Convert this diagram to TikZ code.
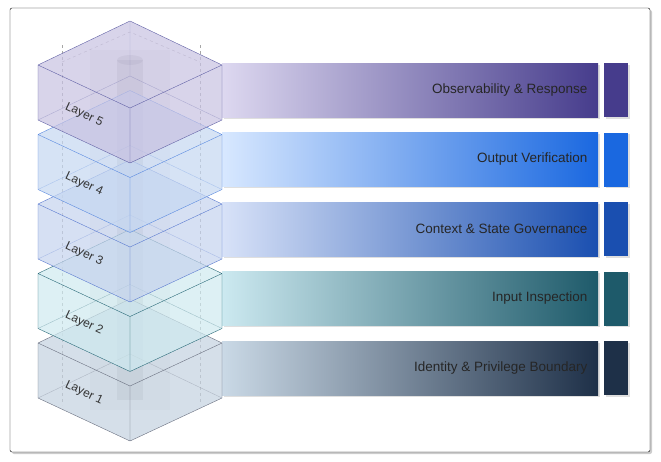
\documentclass[tikz,border=0pt]{standalone}
\usepackage{fontspec}
\setmainfont{Liberation Sans}
\usetikzlibrary{shadows}

\definecolor{edgeA}{HTML}{6A7080}\definecolor{faceA}{HTML}{C4D2E0}\definecolor{lightA}{HTML}{CAD9E6}\definecolor{darkA}{HTML}{1E3048}
\definecolor{edgeB}{HTML}{2A6A78}\definecolor{faceB}{HTML}{CFEAF0}\definecolor{lightB}{HTML}{CCE9F0}\definecolor{darkB}{HTML}{1E5A6A}
\definecolor{edgeC}{HTML}{5A7AD0}\definecolor{faceC}{HTML}{C6D3EE}\definecolor{lightC}{HTML}{D8E2F8}\definecolor{darkC}{HTML}{1A4FB0}
\definecolor{edgeD}{HTML}{5A8AE0}\definecolor{faceD}{HTML}{C6D8F2}\definecolor{lightD}{HTML}{D8E8FF}\definecolor{darkD}{HTML}{1A68E0}
\definecolor{edgeE}{HTML}{6262A6}\definecolor{faceE}{HTML}{C8C2E2}\definecolor{lightE}{HTML}{DDD8F0}\definecolor{darkE}{HTML}{463C8C}

\begin{document}
\begin{tikzpicture}[
		x=1pt, y=-1pt,
		frame/.style={draw=black, fill=white, rounded corners=2pt,
			drop shadow={opacity=0.4, shadow xshift=2pt, shadow yshift=-2pt}},
		bar/.style={rectangle, minimum width=376pt, minimum height=54pt, inner sep=0pt,
			drop shadow={opacity=0.25, shadow xshift=1.5pt, shadow yshift=-1.5pt}},
		tab/.style={rectangle, minimum width=24pt, minimum height=54pt, inner sep=0pt,
			drop shadow={opacity=0.25, shadow xshift=1.5pt, shadow yshift=-1.5pt}},
		title/.style={font=\fontsize{13.5}{16}\selectfont, text=black!85, anchor=east},
		tag/.style={font=\fontsize{12}{14}\selectfont, text=black!80, rotate=-25}
	]
  \useasboundingbox (0,0) rectangle (661,461);
  \node (frame) [frame, minimum width=640pt, minimum height=444pt] at (330,230) {};

  % core column
  \fill [black, opacity=0.05] (90,50) rectangle (170,410);
  \fill [black, opacity=0.12] (117,60) rectangle (143,400);
  \fill [black, opacity=0.12] (130,60) ellipse (13 and 5);
  \draw [dashed, black!35] (62,45) -- (62,405) (200,45) -- (200,405);
  \draw [dashed, black!35] (62,62) -- (130,32) -- (200,62);

  \foreach \i/\c/\t/\txt in {1/A/343/Identity \& Privilege Boundary, 2/B/273.5/Input Inspection,
      3/C/204/Context \& State Governance, 4/D/134.5/Output Verification, 5/E/65/Observability \& Response}{
    \coordinate (top\i) at (130,\t-44);
    \coordinate (left\i) at (38,\t);
    \coordinate (right\i) at (222,\t);
    \coordinate (front\i) at (130,\t+43);
    \coordinate (lbot\i) at (38,\t+55);
    \coordinate (fbot\i) at (130,\t+98);
    \coordinate (rbot\i) at (222,\t+55);
    \coordinate (back\i) at (130,\t+11);
    \node (bar\i) [bar, left color=light\c, right color=dark\c] at (410,\t+25) {};
    \node (tab\i) [tab, fill=dark\c] at (616,\t+25) {};
    \node (name\i) [title] at (591,\t+25) {\txt};
    \fill [face\c, opacity=0.7] (top\i) -- (right\i) -- (rbot\i) -- (fbot\i) -- (lbot\i) -- (left\i) -- cycle;
    \draw [edge\c, opacity=0.35] (back\i) -- (lbot\i) (back\i) -- (rbot\i) (back\i) -- (top\i);
    \draw [edge\c, line join=round] (top\i) -- (right\i) -- (rbot\i) -- (fbot\i) -- (lbot\i) -- (left\i) -- cycle
      (left\i) -- (front\i) -- (right\i) (front\i) -- (fbot\i);
    \node (layer\i) [tag] at (84,\t+50) {Layer \i};
  }
\end{tikzpicture}
\end{document}
